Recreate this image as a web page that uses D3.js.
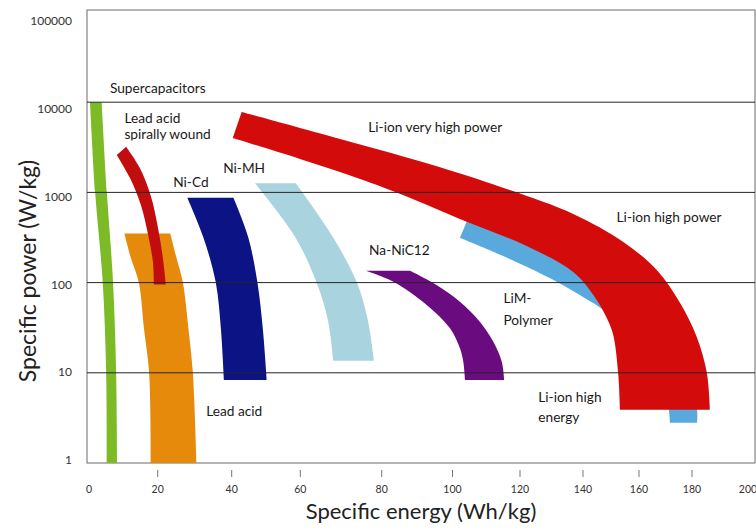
<!DOCTYPE html>
<html>
<head>
<meta charset="utf-8">
<script src="https://cdn.jsdelivr.net/npm/d3@7"></script>
<style>
  body { margin: 0; background: #fff; }
  svg { display: block; }
</style>
</head>
<body>
<script>
// Ragone chart: specific power against specific energy of storage technologies

const energyTicks = [0, 20, 40, 60, 80, 100, 120, 140, 160, 180, 200];
const powerTicks = [1, 10, 100, 1000, 10000, 100000];
const gridPowers = [10, 100, 1000, 10000];

// Each band: left edge and right edge, listed top to bottom, as [Wh/kg, W/kg]
const supercapLeft  = [[0.3, 10000], [1.8, 1000], [4.0, 100], [5.0, 10], [5.2, 1]];
const supercapRight = [[3.7, 10000], [5.2, 1000], [7.0, 100], [7.9, 10], [8.2, 1]];

const leadAcidLeft  = [[10.3, 350], [12.2, 187], [14.5, 100], [16.0, 31], [17.5, 10], [18.0, 1]];
const leadAcidRight = [[23.4, 350], [25.1, 187], [26.8, 100], [28.3, 31], [29.5, 10], [30.5, 1]];

const spiralLeft  = [[8.1, 2600], [11.9, 1450], [15.1, 725], [17.2, 340], [18.6, 170], [18.9, 95]];
const spiralRight = [[10.8, 3200], [14.8, 1860], [18.0, 910], [20.1, 400], [21.4, 187], [22.2, 95]];

const niCdLeft  = [[28.0, 870], [32.3, 320], [35.7, 100], [37.1, 30], [37.9, 8.3]];
const niCdRight = [[40.5, 870], [44.8, 320], [47.5, 100], [49.1, 30], [50.2, 8.3]];

const niMHLeft  = [[46.8, 1260], [58.5, 320], [64.0, 100], [66.8, 38], [68.1, 13.6]];
const niMHRight = [[58.7, 1260], [68.0, 320], [73.9, 100], [76.6, 38], [78.1, 13.6]];

const naNiClLeft  = [[76.1, 135], [83.3, 102], [92.7, 56.5], [99.3, 31.1], [102.2, 18.7],
                     [103.2, 13.3], [103.7, 8.3]];
const naNiClRight = [[88.0, 135], [95.5, 94], [102.2, 61.4], [108.1, 36.9], [112.1, 22.1],
                     [114.6, 13.3], [115.3, 8.3]];

const polymerLeft  = [[102.2, 315], [112.1, 220], [122.1, 150], [132.7, 98], [139.0, 72.9],
                      [149.6, 43.7], [158.6, 20.3], [166.0, 9.5], [170.6, 5.0], [171.7, 2.8]];
const polymerRight = [[104.2, 473], [123.2, 297], [142.5, 138], [160.4, 50], [171.7, 18],
                      [179.2, 7.3], [181.8, 3.9], [181.8, 2.8]];

const liIonLeft  = [[40.3, 4000], [59.9, 2350], [74.7, 1410], [86.0, 935], [104.2, 473], [122.1, 255],
                    [136.9, 131], [143.7, 72.9], [148.5, 40.5], [150.8, 26.2], [152.6, 9.5], [153.2, 3.9]];
const liIonRight = [[42.9, 7800], [69.8, 3900], [96.5, 1900], [117.0, 1060], [136.9, 576], [154.4, 282],
                    [166.7, 138], [175.5, 59.4], [181.7, 24.9], [185.3, 10], [186.4, 3.9]];

// Band names in drawing order (later ones sit on top)
const bandNames = ["Supercapacitors", "Lead acid", "Lead acid spirally wound", "Ni-Cd", "Ni-MH",
                   "Na-NiCl2", "LiM-Polymer", "Li-ion"];
const bandLefts  = [supercapLeft, leadAcidLeft, spiralLeft, niCdLeft, niMHLeft, naNiClLeft, polymerLeft, liIonLeft];
const bandRights = [supercapRight, leadAcidRight, spiralRight, niCdRight, niMHRight, naNiClRight, polymerRight, liIonRight];

// Annotation lines: text, energy and power of the baseline start
const labelTexts  = ["Supercapacitors", "Lead acid", "spirally wound", "Ni-Cd", "Ni-MH",
                     "Li-ion very high power", "Li-ion high power", "Na-NiC12", "LiM-", "Polymer",
                     "Lead acid", "Li-ion high", "energy"];
const labelEnergy = [6.1, 10.3, 10.3, 24.2, 37.7, 76.7, 152.0, 76.9, 115.1, 115.1, 33.1, 125.8, 125.8];
const labelPower  = [12700, 5930, 3910, 1157, 1629, 4710, 473, 201, 58.9, 33.9, 3.35, 4.78, 2.85];

const bandColors = {
  "Supercapacitors": "#7cba26",
  "Lead acid": "#e58a0a",
  "Lead acid spirally wound": "#c10d0d",
  "Ni-Cd": "#0b1385",
  "Ni-MH": "#a9d3de",
  "Na-NiCl2": "#6a0c80",
  "LiM-Polymer": "#5aa9dc",
  "Li-ion": "#d30b0b"
};

const W = 756, H = 529;
const frame = { left: 87, top: 10, right: 755, bottom: 463 };

const svg = d3.select("body").append("svg").attr("width", W).attr("height", H);

// Energy axis is hand-spaced, so the scale is piecewise linear through each tick
const x = d3.scaleLinear()
  .domain(energyTicks)
  .range([89, 157.7, 231.7, 300.3, 381.7, 452.5, 520, 583, 639, 692, 748]);
const y = d3.scaleLog().domain([1, 100000]).range([frame.bottom, 12]);
// tick labels sit on a slightly tighter ladder than the grid
const yLabel = d3.scaleLog().domain([1, 100000]).range([460, 21]);

// plot frame
svg.append("rect")
  .attr("x", frame.left).attr("y", frame.top)
  .attr("width", frame.right - frame.left).attr("height", frame.bottom - frame.top)
  .attr("fill", "#fff").attr("stroke", "#6b6b6b").attr("stroke-width", 1);

// bands
const edge = d3.line()
  .x(d => x(d[0])).y(d => y(d[1]))
  .curve(d3.curveCatmullRom.alpha(0.5));
function bandPath(left, right) {
  return edge(left) + edge(right.slice().reverse()).replace(/^M/, "L") + "Z";
}
svg.append("g").selectAll("path")
  .data(bandNames)
  .join("path")
  .attr("d", (d, i) => bandPath(bandLefts[i], bandRights[i]))
  .attr("fill", d => bandColors[d]);

// horizontal decade lines drawn over the bands
svg.append("g").selectAll("line")
  .data(gridPowers)
  .join("line")
  .attr("x1", frame.left).attr("x2", frame.right)
  .attr("y1", d => y(d)).attr("y2", d => y(d))
  .attr("stroke", "#262626").attr("stroke-width", 1);

// power tick labels
svg.append("g").selectAll("text")
  .data(powerTicks)
  .join("text")
  .attr("x", 72).attr("y", d => yLabel(d))
  .attr("dy", "0.35em")
  .attr("text-anchor", "end")
  .attr("font-family", "Lato, sans-serif").attr("font-size", 12)
  .attr("fill", "#333")
  .text(d => d);

// energy ticks and labels
const xAxis = svg.append("g");
xAxis.selectAll("line")
  .data(energyTicks.filter(d => d > 0 && d < 200))
  .join("line")
  .attr("x1", d => x(d)).attr("x2", d => x(d))
  .attr("y1", 470).attr("y2", 477)
  .attr("stroke", "#777").attr("stroke-width", 1);
xAxis.selectAll("text")
  .data(energyTicks)
  .join("text")
  .attr("x", d => x(d)).attr("y", 489)
  .attr("dy", "0.35em")
  .attr("text-anchor", "middle")
  .attr("font-family", "Lato, sans-serif").attr("font-size", 10.5)
  .attr("fill", "#333")
  .text(d => d);

// axis titles
svg.append("text")
  .attr("x", 421).attr("y", 519)
  .attr("text-anchor", "middle")
  .attr("font-family", "Lato, sans-serif").attr("font-size", 22)
  .attr("fill", "#222")
  .text("Specific energy (Wh/kg)");
svg.append("text")
  .attr("transform", "translate(36,271) rotate(-90)")
  .attr("text-anchor", "middle")
  .attr("font-family", "Lato, sans-serif").attr("font-size", 23)
  .attr("fill", "#222")
  .text("Specific power (W/kg)");

// the "spirally wound" caption is cut off just below its baseline
const spiralIdx = labelTexts.indexOf("spirally wound");
svg.append("clipPath").attr("id", "caption-clip")
  .append("rect")
  .attr("x", 0).attr("y", 0).attr("width", W)
  .attr("height", y(labelPower[spiralIdx]) + 1.5);

svg.append("g").selectAll("text")
  .data(labelTexts)
  .join("text")
  .attr("x", (d, i) => x(labelEnergy[i]))
  .attr("y", (d, i) => y(labelPower[i]))
  .attr("clip-path", (d, i) => i === spiralIdx ? "url(#caption-clip)" : null)
  .attr("font-family", "Lato, sans-serif").attr("font-size", 13.7)
  .attr("fill", "#1a1a1a")
  .text(d => d);
</script>
</body>
</html>
